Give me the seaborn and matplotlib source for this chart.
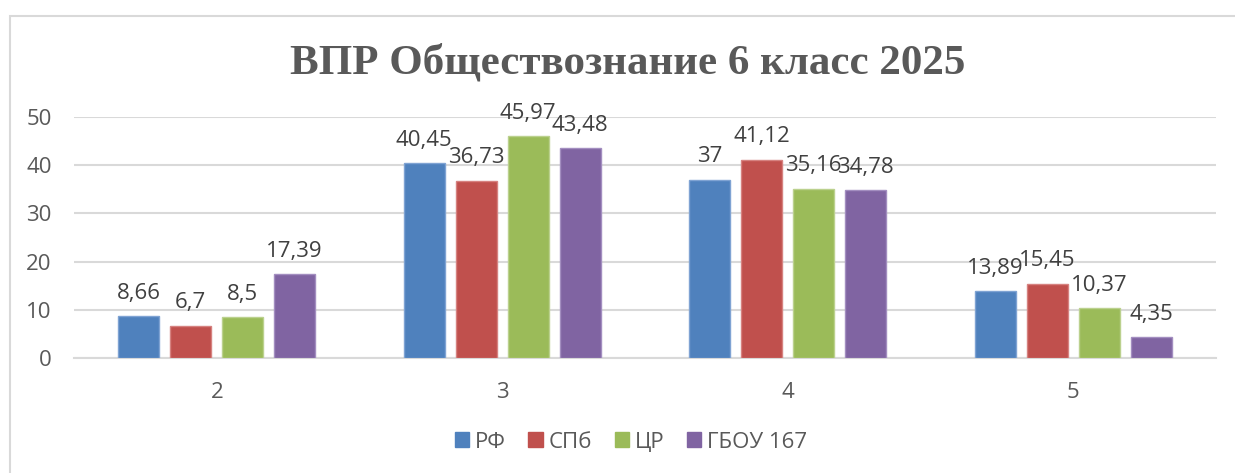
import matplotlib
matplotlib.use("Agg")
import matplotlib.pyplot as plt
import seaborn as sns
import pandas as pd
from matplotlib.patches import Rectangle, Patch

categories = ["2", "3", "4", "5"]
series_names = ["РФ", "СПб", "ЦР", "ГБОУ 167"]
rf = [8.66, 40.45, 37, 13.89]
spb = [6.7, 36.73, 41.12, 15.45]
cr = [8.5, 45.97, 35.16, 10.37]
gbou = [17.39, 43.48, 34.78, 4.35]
yticks = [0, 10, 20, 30, 40, 50]
colors = ["#4F81BD", "#C0504D", "#9BBB59", "#8064A2"]
edge_colors = ["#7FA3D3", "#D68280", "#BBD18E", "#A38EC0"]
title = "ВПР Обществознание 6 класс 2025"

rows = []
for name, vals in zip(series_names, [rf, spb, cr, gbou]):
    for c, v in zip(categories, vals):
        rows.append({"cat": c, "series": name, "value": v})
df = pd.DataFrame(rows)

sns.set_theme(style="white")
plt.rcParams["font.family"] = ["Open Sans", "DejaVu Sans"]

fig = plt.figure(figsize=(12.35, 4.73), dpi=100)
ax = fig.add_axes([74 / 1235, 1 - 358 / 473, (1216 - 74) / 1235, (358 - 117) / 473])

sns.barplot(data=df, x="cat", y="value", hue="series", order=categories,
            hue_order=series_names, palette=colors, width=0.728, gap=0.21,
            saturation=1, ax=ax, legend=False, zorder=3)

for i, cont in enumerate(ax.containers):
    for p in cont:
        p.set_edgecolor(edge_colors[i])
        p.set_linewidth(1.0)
    labs = [f"{v:g}".replace(".", ",") for v in [rf, spb, cr, gbou][i]]
    ax.bar_label(cont, labels=labs, padding=9, fontsize=16, color="#404040")

ax.set_ylim(0, 50)
ax.set_yticks(yticks)
ax.set_xlim(-0.5, 3.5)
ax.grid(axis="y", color="#D9D9D9", linewidth=1.5, zorder=0)
ax.set_axisbelow(True)
for s in ["top", "right", "left"]:
    ax.spines[s].set_visible(False)
ax.spines["bottom"].set_color("#D9D9D9")
ax.spines["bottom"].set_linewidth(1.5)
ax.tick_params(axis="both", length=0, labelsize=16, colors="#595959")
ax.tick_params(axis="x", pad=17)
ax.tick_params(axis="y", pad=16)
ax.set_xlabel("")
ax.set_ylabel("")

fig.text(0.508, 1 - 63 / 473, title, ha="center", va="center",
         fontsize=31, fontweight="bold", color="#595959",
         family=["Liberation Serif", "DejaVu Serif"])

handles = [Patch(facecolor=c, edgecolor=c) for c in colors]
fig.legend(handles, series_names, loc="center", bbox_to_anchor=(0.511, 1 - 442 / 473),
           ncol=4, frameon=False, fontsize=16, handlelength=0.65, handleheight=0.65,
           handletextpad=0.27, columnspacing=1.0, labelcolor="#595959")

fig.patches.append(Rectangle((10 / 1235, -0.1), 1.2, 1 - 16 / 473 + 0.1,
                             transform=fig.transFigure, fill=False,
                             edgecolor="#D9D9D9", linewidth=1.5))

fig.savefig("out.png", dpi=100)
